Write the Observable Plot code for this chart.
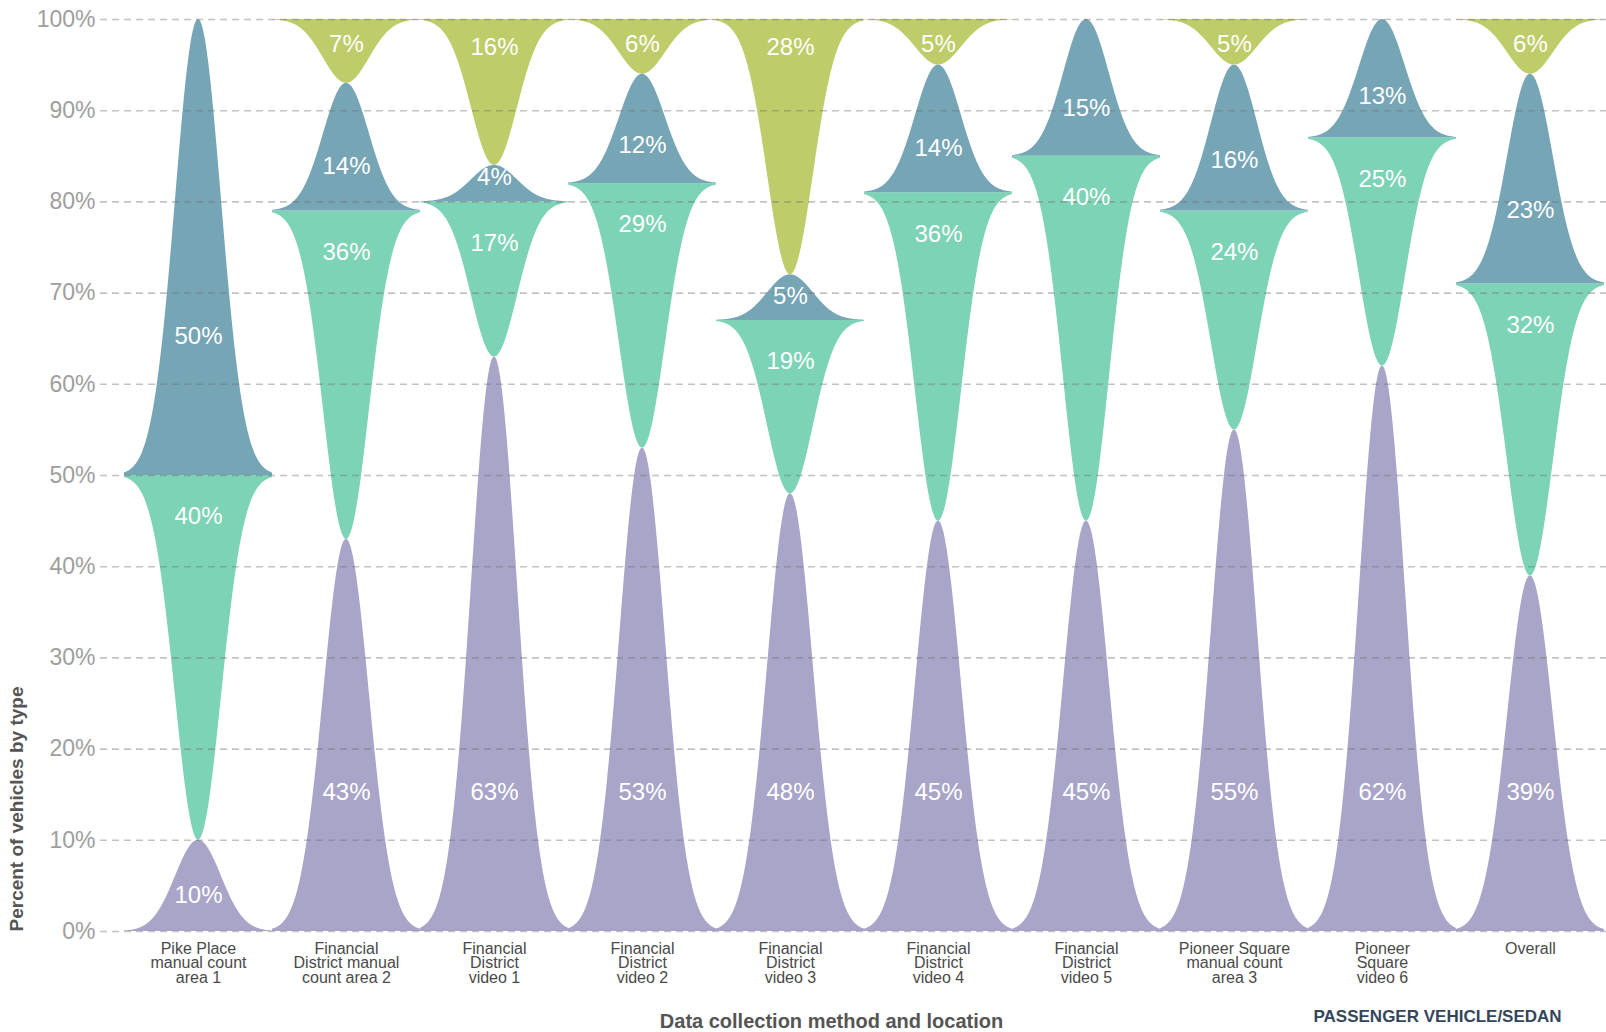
<!DOCTYPE html>
<html>
<head>
<meta charset="utf-8">
<script src="https://cdn.jsdelivr.net/npm/d3@7"></script>
<script src="https://cdn.jsdelivr.net/npm/@observablehq/plot@0.6"></script>
<style>
  html, body { margin: 0; padding: 0; background: #ffffff; overflow: hidden; }
  #chart { width: 1606px; height: 1032px; position: relative; }
  #chart svg { overflow: visible; }
</style>
</head>
<body>
<div id="chart"></div>
<script>
// ---------------- data ----------------
const categories = [
  "Pike Place\nmanual count\narea 1",
  "Financial\nDistrict manual\ncount area 2",
  "Financial\nDistrict\nvideo 1",
  "Financial\nDistrict\nvideo 2",
  "Financial\nDistrict\nvideo 3",
  "Financial\nDistrict\nvideo 4",
  "Financial\nDistrict\nvideo 5",
  "Pioneer Square\nmanual count\narea 3",
  "Pioneer\nSquare\nvideo 6",
  "Overall"
];
// percent of vehicles by type, stacked bottom -> top
const purpleShare = [10, 43, 63, 53, 48, 45, 45, 55, 62, 39];
const greenShare  = [40, 36, 17, 29, 19, 36, 40, 24, 25, 32];
const blueShare   = [50, 14,  4, 12,  5, 14, 15, 16, 13, 23];
const yellowShare = [ 0,  7, 16,  6, 28,  5,  0,  5,  0,  6];
const seriesNames = ["Passenger vehicle/sedan", "Type 2", "Type 3", "Type 4"];
const yTicks = [0, 10, 20, 30, 40, 50, 60, 70, 80, 90, 100];
const yAxisTitle = "Percent of vehicles by type";
const xAxisTitle = "Data collection method and location";
const legendText = "PASSENGER VEHICLE/SEDAN";

// ---------------- styles ----------------
const seriesColors = ["#a9a5c8", "#7cd3b5", "#76a5b5", "#becc6a"];
const labelFrac = [0.4, 0.35, 0.35, 0.35];
const labelCap = [15.3, 4.5, 15.3, 3];   // max label offset from wide end (percent units)
const SIGMA = 0.155;  // spike sharpness, in band units
const HALF = 0.5;     // spike half width at its base, in band units
const STEPS = 200;
const FONT = '"Liberation Sans Narrow", "Arial Narrow", "Liberation Sans", Arial, sans-serif';
const BOLD = '"Liberation Sans", Arial, sans-serif';

// ---------------- build spike shapes ----------------
const seriesValues = [purpleShare, greenShare, blueShare, yellowShare];
const shapes = [];
const labels = [];
categories.forEach((cat, i) => {
  let base = 0;
  seriesValues.forEach((vals, s) => {
    const h = vals[i];
    if (h > 0) {
      const wideAtBottom = s % 2 === 0;
      const lo = base, hi = base + h;
      for (let k = 0; k <= STEPS; k++) {
        const d = -HALF + (2 * HALF * k) / STEPS;
        const g = Math.exp(-(d * d) / (2 * SIGMA * SIGMA));
        shapes.push({
          key: i + "-" + s,
          series: seriesNames[s],
          x: i + d,
          y1: wideAtBottom ? lo : hi - h * g,
          y2: wideAtBottom ? lo + h * g : hi
        });
      }
      const off = Math.max(2.7, Math.min(labelFrac[s] * h, labelCap[s]));
      labels.push({ x: i, y: wideAtBottom ? lo + off : hi - off, text: h + "%" });
    }
    base += h;
  });
});

const chart = Plot.plot({
  width: 1606,
  height: 1032,
  marginLeft: 100,
  marginRight: 0,
  marginTop: 19,
  marginBottom: 101,
  style: { fontFamily: FONT, background: "#ffffff", overflow: "visible" },
  x: { domain: [-0.662, 9.514], axis: null },
  y: { domain: [0, 100], axis: null },
  color: { domain: seriesNames, range: seriesColors },
  marks: [
    Plot.areaY(shapes, { x: "x", y1: "y1", y2: "y2", z: "key", fill: "series", curve: "linear" }),
    Plot.ruleY(yTicks, { stroke: "#6f6f6f", strokeOpacity: 0.42, strokeWidth: 1.6, strokeDasharray: "7,5" }),
    Plot.text(labels, { x: "x", y: "y", text: "text", fill: "#ffffff", fontSize: 24, fontFamily: FONT }),
    Plot.axisY({ ticks: yTicks, tickFormat: d => d + "%", tickSize: 0, tickPadding: 5, fontSize: 23, color: "#9e9e9e", label: null }),
    Plot.axisX({ ticks: d3.range(categories.length), tickFormat: i => categories[i], tickSize: 0, tickPadding: 12, fontSize: 16, lineHeight: 0.9, color: "#4a4a4a", label: null }),
    Plot.text([yAxisTitle], { frameAnchor: "bottom-left", rotate: -90, textAnchor: "start", dx: -78, fontSize: 19, fontWeight: "bold", fill: "#555555", fontFamily: BOLD }),
    Plot.text([xAxisTitle], { frameAnchor: "bottom", dx: -22, dy: 96, fontSize: 20, fontWeight: "bold", fill: "#555555", fontFamily: BOLD }),
    Plot.text([legendText], { frameAnchor: "bottom-left", textAnchor: "start", dx: 1213, dy: 90, fontSize: 17, fontWeight: "bold", fill: "#34465a", fontFamily: BOLD })
  ]
});
document.getElementById("chart").appendChild(chart);
</script>
</body>
</html>
